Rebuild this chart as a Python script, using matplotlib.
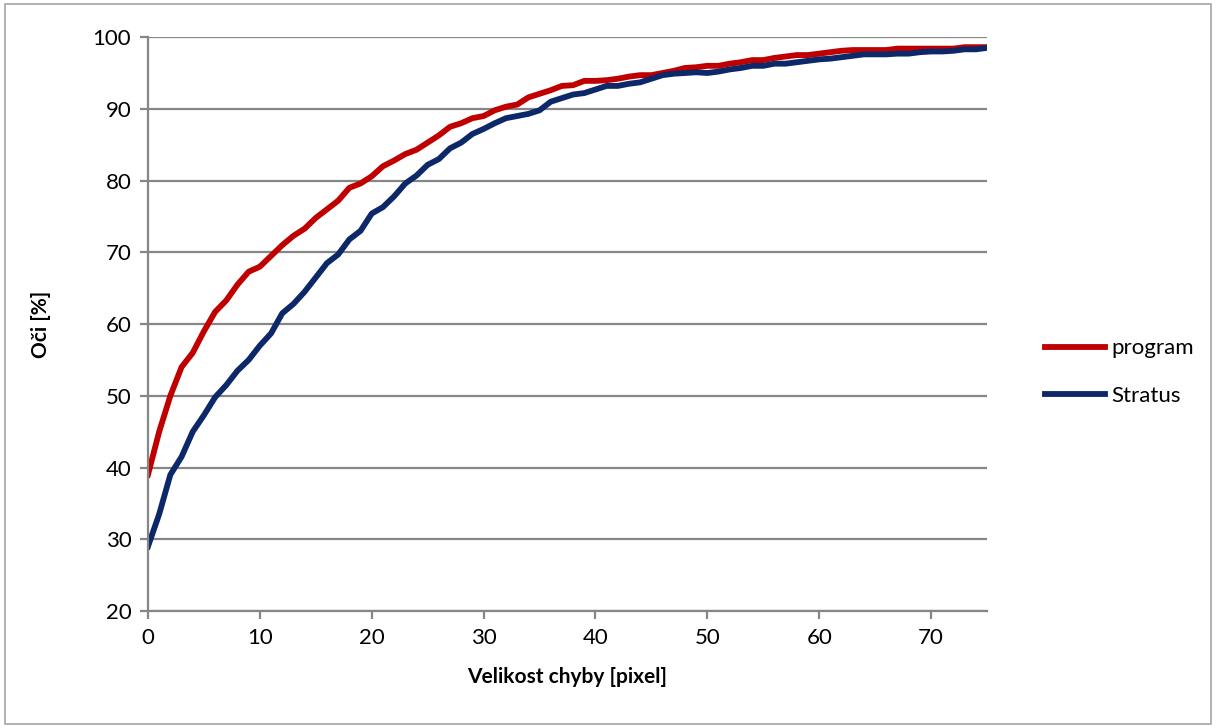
import matplotlib.pyplot as plt
from matplotlib.patches import Rectangle

plt.rcParams['font.family'] = ['Lato', 'DejaVu Sans']

x = list(range(76))
program = [39, 45, 50, 54, 56, 59, 61.7, 63.3, 65.5, 67.3,
           68, 69.5, 71, 72.3, 73.3, 74.8, 76, 77.2, 79, 79.6,
           80.6, 82, 82.8, 83.7, 84.3, 85.3, 86.3, 87.5, 88, 88.7,
           89, 89.8, 90.3, 90.6, 91.6, 92.1, 92.6, 93.2, 93.3, 93.9,
           93.9, 94, 94.2, 94.5, 94.7, 94.7, 95, 95.3, 95.7, 95.8,
           96, 96, 96.3, 96.5, 96.8, 96.8, 97.1, 97.3, 97.5, 97.5,
           97.7, 97.9, 98.1, 98.2, 98.2, 98.2, 98.2, 98.4, 98.4, 98.4,
           98.4, 98.4, 98.4, 98.6, 98.6, 98.6]
stratus = [29, 33.5, 39, 41.5, 45, 47.3, 49.8, 51.5, 53.5, 55,
           57, 58.7, 61.5, 62.8, 64.5, 66.5, 68.5, 69.7, 71.8, 73,
           75.4, 76.3, 77.8, 79.6, 80.7, 82.2, 83, 84.5, 85.3, 86.5,
           87.2, 88, 88.7, 89, 89.3, 89.8, 91, 91.5, 92, 92.2,
           92.7, 93.2, 93.2, 93.5, 93.7, 94.2, 94.7, 94.9, 95, 95.1,
           95, 95.2, 95.5, 95.7, 96, 96, 96.3, 96.3, 96.5, 96.7,
           96.9, 97, 97.2, 97.4, 97.6, 97.6, 97.6, 97.7, 97.7, 97.9,
           98, 98, 98.1, 98.3, 98.3, 98.5]

fig = plt.figure(figsize=(12.16, 7.28), dpi=100)
ax = fig.add_axes([0.1217, 0.1607, 0.69, 0.7883])

# marco exterior gris
fig.patches.append(Rectangle((0.004, 0.006), 0.992, 0.988, transform=fig.transFigure,
                             fill=False, edgecolor='#a6a6a6', linewidth=1.2))

ax.plot(x, program, color='#c00000', linewidth=4.2, label='program')
ax.plot(x, stratus, color='#0c2868', linewidth=4.2, label='Stratus')

ax.set_xlim(0, 75)
ax.set_ylim(20, 100)
ax.set_xticks(range(0, 80, 10))
ax.set_yticks(range(20, 110, 10))
ax.grid(axis='y', color='#868686', linewidth=1.6)
ax.set_axisbelow(True)

for s in ['top', 'right']:
    ax.spines[s].set_visible(False)
for s in ['left', 'bottom']:
    ax.spines[s].set_color('#868686')
    ax.spines[s].set_linewidth(1.6)
ax.tick_params(axis='both', direction='out', length=6, width=1.6,
               color='#868686', labelsize=16, pad=6)

ax.set_xlabel('Velikost chyby [pixel]', fontsize=15, fontweight='bold', labelpad=14)
ax.set_ylabel('Oči [%]', fontsize=15, fontweight='bold', labelpad=30)

ax.legend(loc='center left', bbox_to_anchor=(1.045, 0.416), frameon=False,
          fontsize=16, handlelength=2.7, handletextpad=0.3, labelspacing=1.25)

fig.savefig('out.png', dpi=100)
